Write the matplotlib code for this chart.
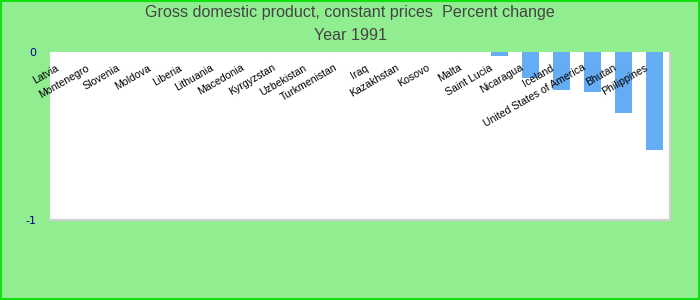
import numpy as np
import matplotlib
matplotlib.use("Agg")
import matplotlib.pyplot as plt
import matplotlib.transforms as mtransforms

countries = ["Latvia", "Montenegro", "Slovenia", "Moldova", "Liberia", "Lithuania",
             "Macedonia", "Kyrgyzstan", "Uzbekistan", "Turkmenistan", "Iraq",
             "Kazakhstan", "Kosovo", "Malta", "Saint Lucia", "Nicaragua", "Iceland",
             "United States of America", "Bhutan", "Philippines"]
# values below the axis range are not drawn in the reference (unknown -> NaN)
values = [np.nan] * 14 + [-0.022, -0.153, -0.226, -0.238, -0.361, -0.581]
y_ticks = [0, -1]
y_tick_labels = ["0", "-1"]
title_lines = ["Gross domestic product, constant prices  Percent change", "Year 1991"]

fig = plt.figure(figsize=(7, 3), dpi=100, facecolor="#90EE90")
ax = fig.add_axes([50/700, 80/300, 620/700, 168/300])
ax.set_facecolor("white")

x = np.arange(len(countries))
ax.bar(x, values, width=0.55, color="#64ACF4")
ax.set_xlim(-0.5, len(countries) - 0.5)
ax.set_ylim(-1, 0)

for s in ["top", "left"]:
    ax.spines[s].set_visible(False)
for s in ["right", "bottom"]:
    ax.spines[s].set_color("#d0d0d0")
    ax.spines[s].set_linewidth(1.5)

ax.set_xticks([])
ax.set_yticks(y_ticks)
ax.set_yticklabels(y_tick_labels, color="#00008B", fontsize=8, fontfamily="DejaVu Sans")
ax.tick_params(axis="y", length=0, pad=10)

offset = mtransforms.ScaledTranslation(-8/100, -15/100, fig.dpi_scale_trans)
trans = mtransforms.blended_transform_factory(ax.transData, ax.transAxes) + offset
for i, name in enumerate(countries):
    ax.text(i, 1.0, name, transform=trans, rotation=30, rotation_mode="anchor",
            ha="right", va="center", fontsize=7.6, fontfamily="Liberation Sans",
            color="black")

fig.text(0.5, 1 - 13/300, title_lines[0], ha="center", va="center", fontsize=11.6,
         fontfamily="Liberation Sans", color="#444444")
fig.text(0.5, 1 - 36/300, title_lines[1], ha="center", va="center", fontsize=11.6,
         fontfamily="Liberation Sans", color="#444444")

border = plt.Rectangle((0.001, 0.002), 0.998, 0.996, transform=fig.transFigure,
                       fill=False, edgecolor="#11e011", linewidth=1.5)
fig.patches.append(border)

fig.savefig("out.png", dpi=100, facecolor=fig.get_facecolor())
